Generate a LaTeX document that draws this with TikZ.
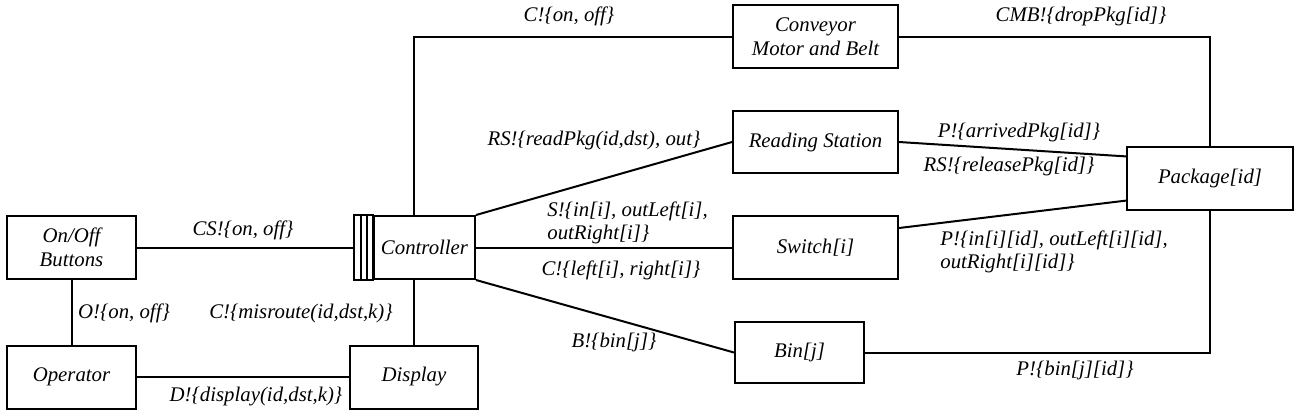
\documentclass[tikz,border=0pt]{standalone}
\usepackage{fontspec}
\setmainfont{Liberation Serif}
\usetikzlibrary{calc}

\tikzset{
  block/.style={draw, line width=1pt, minimum height=31.5pt, inner sep=1pt, align=center,
    font=\fontsize{10.4}{12}\selectfont\itshape},
  msg/.style={inner sep=0pt, align=left, font=\fontsize{10.4}{11.5}\selectfont\itshape},
  wire/.style={line width=1pt},
}

\begin{document}
\begin{tikzpicture}[x=0.5pt, y=-0.5pt]
  \useasboundingbox (0,0) rectangle (1305,419);

  % blocks
  \node[block, minimum width=64.5pt] (onoff) at (71.5,247.5) {On/Off\\Buttons};
  \node[block, minimum width=64.5pt] (oper) at (71.5,377) {Operator};
  \node[block, minimum width=64pt] (disp) at (414,377) {Display};
  \node[block, minimum width=50.5pt] (ctrl) at (424.5,247.5) {Controller};
  \node[block, minimum width=82.5pt] (conv) at (815.5,36.5) {Conveyor\\Motor and Belt};
  \node[block, minimum width=82.5pt, minimum height=31pt] (rs) at (815.5,142) {Reading Station};
  \node[block, minimum width=82.5pt] (sw) at (815.5,247.5) {Switch[i]};
  \node[block, minimum width=64.5pt, minimum height=30.5pt] (bin) at (799.5,352.5) {Bin[j]};
  \node[block, minimum width=83pt] (pkg) at (1210,178.5) {Package[id]};

  % controller ports
  \draw[wire] ($(ctrl.north west)+(-19,0)$) rectangle (ctrl.south west);
  \foreach \dx in {-12,-6}
    \draw[wire] ($(ctrl.north west)+(\dx,0)$) -- ($(ctrl.south west)+(\dx,0)$);
  \coordinate (ctrlin) at ($(ctrl.west)+(-19,0)$);

  % connectors
  \draw[wire] (onoff.east) -- (ctrlin);
  \draw[wire] (onoff.south) -- (oper.north);
  \draw[wire] (oper.east) -- (disp.west);
  \draw[wire] (ctrl.south -| disp.north) -- (disp.north);
  \draw[wire] (ctrl.north -| disp.north) |- (conv.west);
  \draw[wire] (conv.east) -| (pkg.north);
  \draw[wire] (ctrl.north east) -- (rs.west);
  \draw[wire] (ctrl.east) -- (sw.west);
  \draw[wire] (ctrl.south east) -- (bin.west);
  \draw[wire] (rs.east) -- ($(pkg.north west)!0.16!(pkg.south west)$);
  \draw[wire] ($(sw.north east)!0.2!(sw.south east)$) -- ($(pkg.north west)!0.84!(pkg.south west)$);
  \draw[wire] (bin.east) -| (pkg.south);

  % messages
  \node[msg] (m1) at (243,230) {CS!\{on, off\}};
  \node[msg] (m2) at (124,313) {O!\{on, off\}};
  \node[msg] (m3) at (301,313) {C!\{misroute(id,dst,k)\}};
  \node[msg] (m4) at (256,397) {D!\{display(id,dst,k)\}};
  \node[msg] (m5) at (569,16) {C!\{on, off\}};
  \node[msg] (m6) at (1081,16) {CMB!\{dropPkg[id]\}};
  \node[msg] (m7) at (594,140) {RS!\{readPkg(id,dst), out\}};
  \node[msg] (m8) at (1019,132) {P!\{arrivedPkg[id]\}};
  \node[msg] (m9) at (1009,166) {RS!\{releasePkg[id]\}};
  \node[msg, anchor=west] (m10) at (547,222.5) {S!\{in[i], outLeft[i],\\outRight[i]\}};
  \node[msg] (m11) at (621,270) {C!\{left[i], right[i]\}};
  \node[msg] (m12) at (614,342) {B!\{bin[j]\}};
  \node[msg, anchor=west] (m13) at (940,251.5) {P!\{in[i][id], outLeft[i][id],\\outRight[i][id]\}};
  \node[msg] (m14) at (1075,370) {P!\{bin[j][id]\}};
\end{tikzpicture}
\end{document}
